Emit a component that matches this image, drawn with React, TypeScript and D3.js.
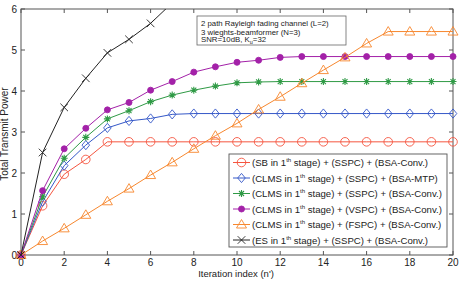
import React from "react";
import * as d3 from "d3";

// iteration index n'
const iterations = d3.range(0, 21);
const xTicks = [0, 2, 4, 6, 8, 10, 12, 14, 16, 18, 20];
const yTicks = [0, 1, 2, 3, 4, 5, 6];

// total transmit power per series
const sbSspc = [0, 1.2, 1.97, 2.33, 2.76, 2.76, 2.76, 2.76, 2.76, 2.76, 2.76, 2.76, 2.76, 2.76, 2.76, 2.76, 2.76, 2.76, 2.76, 2.76, 2.76];
const clmsMtp = [0, 1.3, 2.18, 2.68, 3.1, 3.27, 3.33, 3.43, 3.45, 3.45, 3.45, 3.45, 3.45, 3.45, 3.45, 3.45, 3.45, 3.45, 3.45, 3.45, 3.45];
const clmsSspc = [0, 1.42, 2.36, 2.87, 3.32, 3.52, 3.74, 3.9, 4.02, 4.12, 4.2, 4.22, 4.23, 4.23, 4.23, 4.23, 4.23, 4.23, 4.23, 4.23, 4.23];
const clmsVspc = [0, 1.57, 2.59, 3.09, 3.54, 3.72, 4.02, 4.23, 4.46, 4.59, 4.7, 4.75, 4.82, 4.84, 4.84, 4.84, 4.84, 4.84, 4.84, 4.84, 4.84];
const clmsFspc = [0, 0.34, 0.65, 0.98, 1.31, 1.62, 1.95, 2.26, 2.59, 2.91, 3.21, 3.55, 3.86, 4.19, 4.51, 4.82, 5.16, 5.45, 5.45, 5.45, 5.45];
const esSspc = [0, 2.5, 3.6, 4.31, 4.93, 5.26, 5.65, 6.15];

const legendLabels = [
  ["(SB in 1", "th", " stage) + (SSPC) + (BSA-Conv.)"],
  ["(CLMS in 1", "th", " stage) + (SSPC) + (BSA-MTP)"],
  ["(CLMS in 1", "th", " stage) + (SSPC) + (BSA-Conv.)"],
  ["(CLMS in 1", "th", " stage) + (VSPC) + (BSA-Conv.)"],
  ["(CLMS in 1", "th", " stage) + (FSPC) + (BSA-Conv.)"],
  ["(ES in 1", "th", " stage) + (SSPC) + (BSA-Conv.)"],
];

const series = [
  { values: sbSspc, color: "#f5553f", marker: "circle" },
  { values: clmsMtp, color: "#3558c8", marker: "diamond" },
  { values: clmsSspc, color: "#2f9a45", marker: "star" },
  { values: clmsVspc, color: "#a321a8", marker: "dot" },
  { values: clmsFspc, color: "#f7872e", marker: "triangle" },
  { values: esSspc, color: "#222222", marker: "x" },
];

const W = 468;
const H = 282;
const left = 21, right = 453, top = 9, bottom = 255;
const FONT = "'Liberation Sans', Arial, sans-serif";

const Marker = ({ kind, x, y, color }: { kind: string; x: number; y: number; color: string }) => {
  const sw = 0.9;
  if (kind === "circle") return <circle cx={x} cy={y} r={4.3} fill="none" stroke={color} strokeWidth={sw} />;
  if (kind === "dot") return <circle cx={x} cy={y} r={3} fill={color} stroke={color} strokeWidth={sw} />;
  if (kind === "diamond")
    return <path d={`M${x},${y - 4.6}L${x + 3.8},${y}L${x},${y + 4.6}L${x - 3.8},${y}Z`} fill="none" stroke={color} strokeWidth={sw} />;
  if (kind === "triangle")
    return <path d={`M${x},${y - 5}L${x + 5},${y + 3.5}L${x - 5},${y + 3.5}Z`} fill="none" stroke={color} strokeWidth={sw} />;
  if (kind === "star") {
    const s = 3.5, d = 2.5;
    return (
      <path d={`M${x - s},${y}L${x + s},${y}M${x},${y - s}L${x},${y + s}M${x - d},${y - d}L${x + d},${y + d}M${x - d},${y + d}L${x + d},${y - d}`} stroke={color} strokeWidth={1.1} />
    );
  }
  const s = 3.8;
  return <path d={`M${x - s},${y - s}L${x + s},${y + s}M${x - s},${y + s}L${x + s},${y - s}`} stroke={color} strokeWidth={sw} />;
};

export default function App() {
  const x = d3.scaleLinear().domain([0, 20]).range([left, right]);
  const y = d3.scaleLinear().domain([0, 6]).range([bottom, top]);
  const line = d3
    .line<number>()
    .x((_, i) => x(iterations[i]))
    .y((d) => y(d));

  const legX = 229, legY = 154, legW = 218, legH = 93, rowH = 15.5;

  return (
    <svg width={W} height={H} style={{ position: "absolute", left: 0, top: 0, background: "#fff" }} fontFamily={FONT}>
      <defs>
        <clipPath id="plotClip">
          <rect x={left - 6} y={top} width={right - left + 12} height={bottom - top + 6} />
        </clipPath>
      </defs>

      {/* axes box and ticks */}
      <rect x={left} y={top} width={right - left} height={bottom - top} fill="none" stroke="#555" strokeWidth={1} />
      {xTicks.map((t) => (
        <g key={"xt" + t}>
          <line x1={x(t)} x2={x(t)} y1={bottom} y2={bottom - 4} stroke="#555" />
          <line x1={x(t)} x2={x(t)} y1={top} y2={top + 4} stroke="#555" />
          <text x={x(t)} y={bottom + 10.5} fontSize={10} textAnchor="middle" fill="#222">{t}</text>
        </g>
      ))}
      {yTicks.map((t) => (
        <g key={"yt" + t}>
          <line x1={left} x2={left + 4} y1={y(t)} y2={y(t)} stroke="#555" />
          <line x1={right} x2={right - 4} y1={y(t)} y2={y(t)} stroke="#555" />
          <text x={left - 4} y={y(t) + 3.5} fontSize={10} textAnchor="end" fill="#222">{t}</text>
        </g>
      ))}
      <text x={236} y={277} fontSize={9.5} textAnchor="middle" fill="#222">Iteration index (n')</text>
      <text transform={`translate(8,134) rotate(-90)`} fontSize={10} textAnchor="middle" fill="#222">Total Transmit Power</text>

      {/* series */}
      <g clipPath="url(#plotClip)">
        {series.map((s, k) => (
          <g key={"s" + k}>
            <path d={line(s.values) ?? ""} fill="none" stroke={s.color} strokeWidth={1} />
            {s.values.map((v, i) => (
              <Marker key={i} kind={s.marker} x={x(iterations[i])} y={y(v)} color={s.color} />
            ))}
          </g>
        ))}
      </g>

      {/* annotation box */}
      <rect x={197} y={16} width={149} height={29} fill="#fff" stroke="#666" strokeWidth={0.8} />
      <text x={201} y={26} fontSize={7.8} fill="#222">2 path Rayleigh fading channel (L=2)</text>
      <text x={201} y={34.5} fontSize={7.8} fill="#222">3 wieghts-beamformer (N=3)</text>
      <text x={201} y={42} fontSize={7.8} fill="#222">
        SNR=10dB, K<tspan fontSize={5.5} dy={2}>u</tspan><tspan dy={-2}>=32</tspan>
      </text>

      {/* legend */}
      <rect x={legX} y={legY} width={legW} height={legH} fill="#fff" stroke="#555" strokeWidth={0.9} />
      {series.map((s, k) => {
        const cy = legY + 8.5 + k * rowH;
        return (
          <g key={"l" + k}>
            <line x1={legX + 4} x2={legX + 21} y1={cy} y2={cy} stroke={s.color} strokeWidth={1} />
            <Marker kind={s.marker} x={legX + 12.5} y={cy} color={s.color} />
            <text x={legX + 23} y={cy + 3.5} fontSize={9.6} fill="#222">
              {legendLabels[k][0]}
              <tspan fontSize={6} dy={-4}>{legendLabels[k][1]}</tspan>
              <tspan dy={4}>{legendLabels[k][2]}</tspan>
            </text>
          </g>
        );
      })}
    </svg>
  );
}
